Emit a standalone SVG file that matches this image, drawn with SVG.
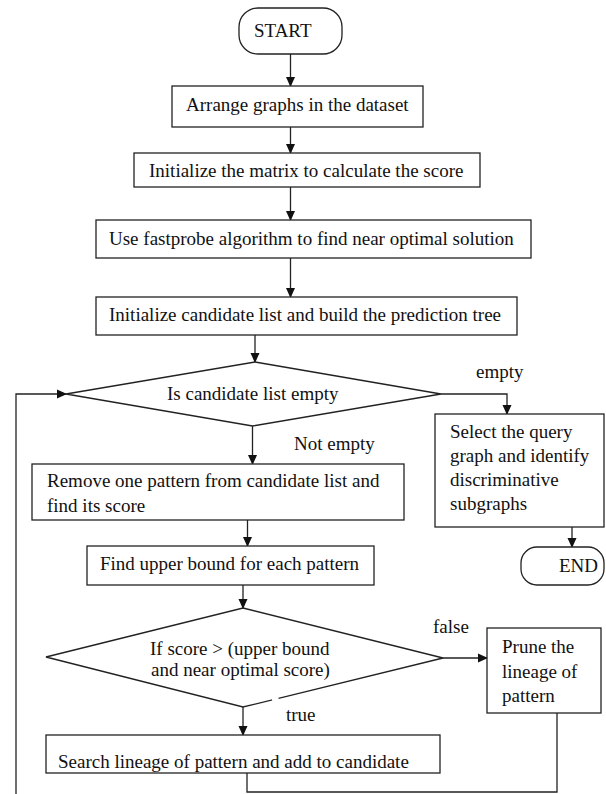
<svg xmlns="http://www.w3.org/2000/svg" width="606" height="794" viewBox="0 0 606 794">
<style>
.box{fill:#fff;stroke:#222;stroke-width:1.3}
.ln{fill:none;stroke:#222;stroke-width:1.3}
text{font-family:"Liberation Serif","Times New Roman",serif;font-size:19px;fill:#111}
</style>
<defs>
<marker id="ah" markerWidth="10" markerHeight="10" refX="9" refY="5" orient="auto" markerUnits="userSpaceOnUse">
<path d="M0,0.5 L10,5 L0,9.5 Z" fill="#111"/>
</marker>
</defs>
<rect width="606" height="794" fill="#fff"/>
<g id="connectors">
<path class="ln" d="M290.5,54 V86" marker-end="url(#ah)"/>
<path class="ln" d="M290.5,127 V153" marker-end="url(#ah)"/>
<path class="ln" d="M290.5,187 V220" marker-end="url(#ah)"/>
<path class="ln" d="M290.5,258 V297" marker-end="url(#ah)"/>
<path class="ln" d="M255,335 V362" marker-end="url(#ah)"/>
<path class="ln" d="M441,394 H507 V414" marker-end="url(#ah)"/>
<path class="ln" d="M252.5,426 V464" marker-end="url(#ah)"/>
<path class="ln" d="M572,527 V547" marker-end="url(#ah)"/>
<path class="ln" d="M247.5,520 V546" marker-end="url(#ah)"/>
<path class="ln" d="M243,585 V608" marker-end="url(#ah)"/>
<path class="ln" d="M443,658 H487" marker-end="url(#ah)"/>
<path class="ln" d="M243,707 V735" marker-end="url(#ah)"/>
<path class="ln" d="M247,773 V792 H557 V713"/>
<path class="ln" d="M16,794 V394 H66" marker-end="url(#ah)"/>
<text x="476" y="378">empty</text>
<text x="294" y="450">Not empty</text>
<text x="433" y="633">false</text>
<text x="286" y="721">true</text>
</g>
<g id="start">
<rect class="box" x="239" y="8" width="103" height="46" rx="19"/>
<text x="254" y="37">START</text>
</g>
<g id="arrange">
<rect class="box" x="172" y="86" width="251" height="41"/>
<text x="186" y="111">Arrange graphs in the dataset</text>
</g>
<g id="initmatrix">
<rect class="box" x="134" y="153" width="346" height="34"/>
<text x="149" y="177">Initialize the matrix to calculate the score</text>
</g>
<g id="fastprobe">
<rect class="box" x="96" y="220" width="435" height="38"/>
<text x="109" y="245">Use fastprobe algorithm to find near optimal solution</text>
</g>
<g id="initcand">
<rect class="box" x="96" y="297" width="421" height="38"/>
<text x="109" y="321">Initialize  candidate list and build the prediction tree</text>
</g>
<g id="isempty">
<polygon class="box" points="255,362 441,394 252.5,426 66,394"/>
<text x="167" y="400">Is candidate list empty</text>
</g>
<g id="select">
<rect class="box" x="435" y="414" width="169" height="113"/>
<text x="450" y="438">Select the query</text>
<text x="450" y="462">graph and identify</text>
<text x="450" y="486">discriminative</text>
<text x="450" y="510">subgraphs</text>
</g>
<g id="end">
<rect class="box" x="521" y="547" width="83" height="38" rx="16"/>
<text x="559" y="572">END</text>
</g>
<g id="remove">
<rect class="box" x="32" y="464" width="372" height="56"/>
<text x="47" y="487">Remove one pattern from candidate list and</text>
<text x="47" y="512">find its score</text>
</g>
<g id="upper">
<rect class="box" x="87" y="546" width="287" height="39"/>
<text x="100" y="570">Find upper bound for each pattern</text>
</g>
<g id="ifscore">
<polygon class="box" points="243,608 443,658 243,707 46,657"/>
<line x1="272" y1="699.8" x2="278.5" y2="698.2" stroke="#fff" stroke-width="3"/>
<text x="150" y="655">If score &gt; (upper bound</text>
<text x="151" y="676">and near optimal score)</text>
</g>
<g id="prune">
<rect class="box" x="487" y="628" width="114" height="85"/>
<text x="502" y="653">Prune the</text>
<text x="502" y="678">lineage of</text>
<text x="502" y="702">pattern</text>
</g>
<g id="search">
<rect class="box" x="46" y="735" width="394" height="38"/>
<text x="58" y="768">Search lineage of pattern and add to candidate</text>
</g>
</svg>
